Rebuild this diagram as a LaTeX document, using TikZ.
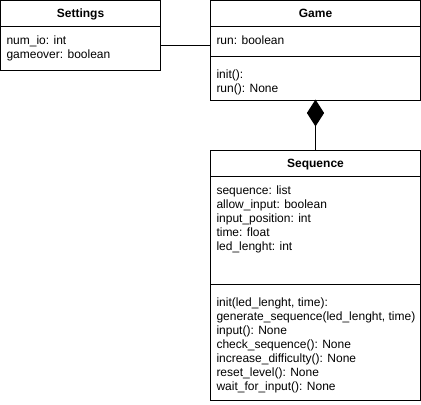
\documentclass[tikz,border=0pt]{standalone}
\usepackage{fontspec}
\setmainfont{Liberation Sans}
\begin{document}
\begin{tikzpicture}[x=0.75pt,y=-0.75pt,line width=0.75pt,
  box/.style={draw,inner sep=0pt,outer sep=0pt,anchor=north west},
  title/.style={font=\bfseries\fontsize{9}{10.5}\selectfont,inner sep=0pt,anchor=base},
  txt/.style={font=\fontsize{9}{10.5}\selectfont,align=left,anchor=north west,inner sep=0pt}]
\useasboundingbox (0,0) rectangle (421,404);
% boxes
\node[box,minimum width=120pt,minimum height=52.5pt] (settings) at (0.5,0.5) {};
\node[box,minimum width=157.5pt,minimum height=75pt] (game) at (210.5,0.5) {};
\node[box,minimum width=157.5pt,minimum height=187.5pt] (seq) at (210.5,150.5) {};
% separators
\draw (settings.north west) ++(0,26) coordinate (s1) -- (s1 -| settings.east);
\draw (game.north west) ++(0,26) coordinate (g1) -- (g1 -| game.east);
\draw (game.north west) ++(0,56) coordinate (g2) -- (g2 -| game.east);
\draw (seq.north west) ++(0,26) coordinate (q1) -- (q1 -| seq.east);
\draw (seq.north west) ++(0,134) coordinate (q2) -- (q2 -| seq.east);
% titles
\node[title] (settingsT) at (80.5,17.8) {Settings};
\node[title] (gameT) at (315.5,17.8) {Game};
\node[title] (seqT) at (315.5,167.8) {Sequence};
% texts
\node[txt] (settingsA) at (6,35.3) {num\_io: int\\gameover: boolean};
\node[txt] (gameA) at (216,35.3) {run: boolean};
\node[txt] (gameM) at (216,69.3) {init():\\run(): None};
\node[txt] (seqA) at (216,185.3) {sequence: list\\allow\_input: boolean\\input\_position: int\\time: float\\led\_lenght: int};
\node[txt] (seqM) at (216,297.3) {init(led\_lenght, time):\\generate\_sequence(led\_lenght, time)\\input(): None\\check\_sequence(): None\\increase\_difficulty(): None\\reset\_level(): None\\wait\_for\_input(): None};
% association
\draw (settings.north east) ++(0,44.5) coordinate (c1) -- (c1 -| game.west);
% composition
\draw[fill=black] (game.south) -- ++(8,12.5) -- ++(-8,12.5) coordinate (dtip) -- ++(-8,-12.5) -- cycle;
\draw (dtip) -- (seq.north);
\end{tikzpicture}
\end{document}
